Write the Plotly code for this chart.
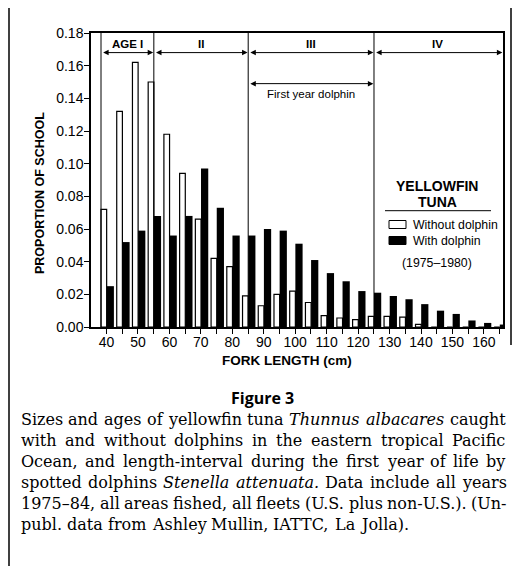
import plotly.graph_objects as go

# ---- data ----
fork_length = [40, 45, 50, 55, 60, 65, 70, 75, 80, 85, 90, 95, 100, 105, 110,
               115, 120, 125, 130, 135, 140, 145, 150, 155, 160, 165]
without_dolphin = [0.072, 0.132, 0.162, 0.150, 0.118, 0.094, 0.066, 0.042, 0.037,
                   0.019, 0.013, 0.020, 0.022, 0.015, 0.007, 0.0055, 0.0045, 0.0065,
                   0.0065, 0.006, 0.0016, 0, 0, 0, 0, 0]
with_dolphin = [0.025, 0.052, 0.059, 0.068, 0.056, 0.068, 0.097, 0.073, 0.056,
                0.056, 0.060, 0.059, 0.051, 0.041, 0.033, 0.028, 0.022, 0.021,
                0.019, 0.017, 0.014, 0.010, 0.008, 0.004, 0.0025, 0.0015]
age_bounds = [38.25, 55.05, 85.05, 125.05]
age_labels = ["AGE I", "II", "III", "IV"]
first_year_dolphin = [85.05, 125.05]
x_ticks = [40, 50, 60, 70, 80, 90, 100, 110, 120, 130, 140, 150, 160]
y_ticks = [0.00, 0.02, 0.04, 0.06, 0.08, 0.10, 0.12, 0.14, 0.16, 0.18]
caption_lines = [
    "Sizes and ages of yellowfin tuna <i>Thunnus albacares</i> caught",
    "with and without dolphins in the eastern tropical Pacific",
    "Ocean, and length-interval during the first year of life by",
    "spotted dolphins <i>Stenella attenuata</i>. Data include all years",
    "1975\u201384, all areas fished, all fleets (U.S. plus non-U.S.). (Un-",
    "publ. data from Ashley Mullin, IATTC, La Jolla).",
]

X_MIN, X_MAX = 35.07, 166.07
Y_MAX = 0.18

# page has an 8px body margin: figure pixel = page pixel - 8
OFF = 8
W_FIG, H_FIG = 524 - OFF, 577 - OFF
PL, PR, PT, PB = 91, 503, 33, 327          # plot area in page pixels
def px(x):
    return (x - PL) / (PR - PL)
def py(y):
    return (PB - y) / (PB - PT)

SANS = "Liberation Sans, Arial, sans-serif"
SERIF = "DejaVu Serif, serif"

# approximate DejaVu Serif advance widths (em)
CW = {' ': .318, 'a': .601, 'b': .641, 'c': .561, 'd': .641, 'e': .594, 'f': .361,
      'g': .641, 'h': .647, 'i': .321, 'j': .314, 'k': .612, 'l': .321, 'm': .965,
      'n': .647, 'o': .602, 'p': .641, 'q': .641, 'r': .478, 's': .512, 't': .4,
      'u': .647, 'v': .579, 'w': .85, 'x': .579, 'y': .579, 'z': .525,
      'A': .722, 'B': .702, 'C': .735, 'D': .781, 'E': .679, 'F': .635, 'G': .779,
      'H': .859, 'I': .397, 'J': .396, 'K': .762, 'L': .64, 'M': .991, 'N': .831,
      'O': .788, 'P': .657, 'Q': .788, 'R': .731, 'S': .647, 'T': .683, 'U': .783,
      'V': .722, 'W': 1.072, 'X': .723, 'Y': .689, 'Z': .647, '.': .318, ',': .318,
      '(': .39, ')': .39, '-': .338, '\u2013': .5}
def tw(s, size):
    return sum(CW.get(c, .636 if c.isdigit() else .6) for c in s) * size

fig = go.Figure()
fig.add_trace(go.Bar(
    x=fork_length, y=without_dolphin, name="Without dolphin",
    offset=-1.75, width=1.8,
    marker=dict(color="white", line=dict(color="black", width=1.2)),
    showlegend=False,
))
fig.add_trace(go.Bar(
    x=fork_length, y=with_dolphin, name="With dolphin",
    offset=0.05, width=2.3,
    marker=dict(color="black", line=dict(color="black", width=0)),
    showlegend=False,
))

shapes = []
annotations = []

def note(x, y, text, size, xanchor="center", yanchor="middle", ref="paper", **kw):
    d = dict(x=x, y=y, xref="x" if ref == "data" else "paper",
             yref="y" if ref == "data" else "paper", text=text, showarrow=False,
             xanchor=xanchor, yanchor=yanchor,
             font=dict(family=kw.pop("family", SANS), size=size, color="black"))
    d.update(kw)
    annotations.append(d)

# age boundary lines
for b in age_bounds:
    shapes.append(dict(type="line", xref="x", yref="paper", x0=b, x1=b, y0=0, y1=1,
                       line=dict(color="black", width=1)))

def dbl_arrow(a, b, y):
    annotations.append(dict(x=b - 0.2, y=y, ax=a + 0.2, ay=y, xref="x", yref="y",
                            axref="x", ayref="y", text="", showarrow=True,
                            arrowhead=2, arrowside="end+start", arrowsize=1.1,
                            arrowwidth=1, arrowcolor="black", standoff=0,
                            startstandoff=0))

# age arrows and labels
ends = age_bounds + [X_MAX]
for i, lab in enumerate(age_labels):
    a, b = ends[i], ends[i + 1]
    dbl_arrow(a, b, 0.168)
    note((a + b) / 2 if i < 3 else 145.4, 0.1735, "<b>%s</b>" % lab, 11.5, ref="data")

# first year dolphin arrow
fa, fb = first_year_dolphin
dbl_arrow(fa, fb, 0.149)
note((fa + fb) / 2, 0.1425, "First year dolphin", 11.5, ref="data")

# legend block
note(px(437), py(186), "<b>YELLOWFIN</b>", 14)
note(px(437), py(202.5), "<b>TUNA</b>", 14)
shapes.append(dict(type="line", xref="paper", yref="paper", x0=px(385), x1=px(491),
                   y0=py(210.7), y1=py(210.7), line=dict(color="black", width=1)))
shapes.append(dict(type="rect", xref="paper", yref="paper", x0=px(389), x1=px(406),
                   y0=py(228.5), y1=py(220.5), fillcolor="white",
                   line=dict(color="black", width=1)))
shapes.append(dict(type="rect", xref="paper", yref="paper", x0=px(389), x1=px(406),
                   y0=py(244.5), y1=py(236.5), fillcolor="black",
                   line=dict(color="black", width=1)))
note(px(411), py(224.5), "Without dolphin", 12.3, xanchor="left")
note(px(411), py(240.5), "With dolphin", 12.3, xanchor="left")
note(px(437), py(262.5), "(1975\u20131980)", 12.3)

# axis titles
note(px(40), py(193), "<b>PROPORTION OF SCHOOL</b>", 12.5, textangle=-90)
note(px(287), py(360), "<b>FORK LENGTH (cm)</b>", 13.5)

# caption
note(px(262), py(398), "<b>Figure 3</b>", 16, family="Open Sans, sans-serif")
CAP_SIZE = 16
LEFT, RIGHT = 20, 505
for li, line in enumerate(caption_lines):
    words = []
    ital = False
    for tok in line.split(" "):
        starts = tok.startswith("<i>")
        ends_i = "</i>" in tok
        plain = tok.replace("<i>", "").replace("</i>", "")
        it = ital or starts
        words.append((plain, it))
        if starts:
            ital = True
        if ends_i:
            ital = False
    widths = [tw(w[0], CAP_SIZE) for w in words]
    if li < len(caption_lines) - 1:
        gap = (RIGHT - LEFT - sum(widths)) / (len(words) - 1)
    else:
        gap = CW[' '] * CAP_SIZE
    x = LEFT
    yline = 419 + 21 * li
    for (plain, it), wdt in zip(words, widths):
        txt = "<i>%s</i>" % plain if it else plain
        note(px(x), py(yline), txt, CAP_SIZE, xanchor="left", family=SERIF,
             borderpad=0)
        x += wdt + gap

# outer page lines
shapes.append(dict(type="line", xref="paper", yref="paper", x0=px(9), x1=px(9),
                   y0=py(0), y1=py(566), line=dict(color="black", width=1.5)))
shapes.append(dict(type="line", xref="paper", yref="paper", x0=px(511), x1=px(511),
                   y0=py(0), y1=py(345), line=dict(color="black", width=1.5)))

fig.update_layout(
    width=W_FIG, height=H_FIG,
    margin=dict(l=PL - OFF, r=524 - PR, t=PT - OFF, b=577 - PB),
    paper_bgcolor="white", plot_bgcolor="white",
    barmode="overlay",
    shapes=shapes, annotations=annotations,
    xaxis=dict(range=[X_MIN, X_MAX], tickvals=x_ticks, ticks="outside", ticklen=5,
               tickcolor="black", showline=True, linecolor="black", linewidth=1.5,
               mirror=True, showgrid=False, zeroline=False, ticklabelstandoff=-4,
               minor=dict(dtick=5, tick0=0, ticks="outside", ticklen=5, tickcolor="black"),
               tickfont=dict(family=SANS, size=14, color="black")),
    yaxis=dict(range=[0, Y_MAX], tickvals=y_ticks, tickformat=".2f", ticks="outside",
               ticklen=5, tickcolor="black", showline=True, linecolor="black",
               linewidth=1.5, mirror=True, showgrid=False, zeroline=False,
               ticklabelstandoff=-2,
               tickfont=dict(family=SANS, size=14, color="black")),
    yaxis2=dict(range=[0, Y_MAX], overlaying="y", side="left", anchor="x",
                dtick=0.01, tick0=0, ticks="inside", ticklen=4, tickcolor="black",
                showticklabels=False, showgrid=False, zeroline=False, showline=False),
)

fig.write_html("out.html")
